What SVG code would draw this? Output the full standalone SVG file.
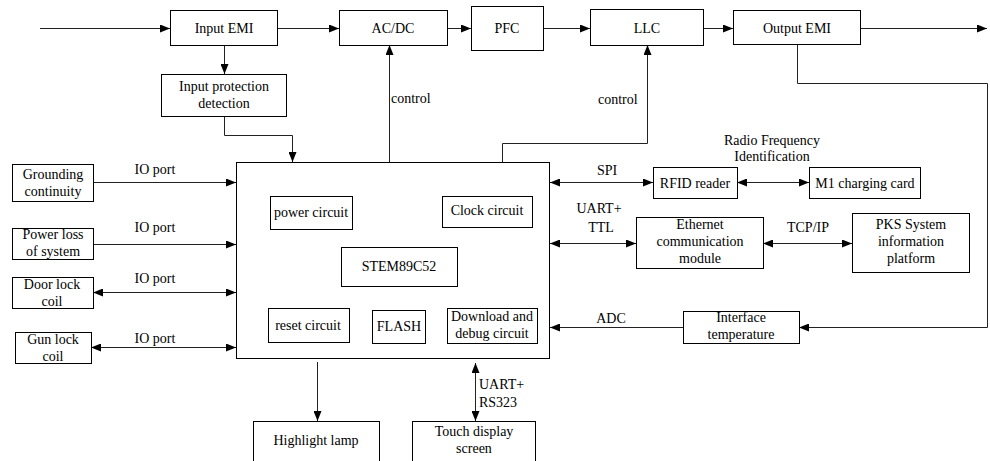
<svg xmlns="http://www.w3.org/2000/svg" width="990" height="461" viewBox="0 0 990 461">
  <defs>
    <marker id="arr" viewBox="0 0 10 8" markerWidth="10" markerHeight="8" refX="10" refY="4" orient="auto-start-reverse" markerUnits="userSpaceOnUse">
      <path d="M0,0 L10,4 L0,8 Z" fill="#000"/>
    </marker>
    <style>
      .box { fill: #fff; stroke: #000; stroke-width: 1; }
      .ln { fill: none; stroke: #222; stroke-width: 1; }
      .one { marker-end: url(#arr); }
      .two { marker-start: url(#arr); marker-end: url(#arr); }
      text { font-family: "Liberation Serif", "Times New Roman", serif; font-size: 14px; fill: #000; }
      .c { text-anchor: middle; }
    </style>
  </defs>

  <rect width="990" height="461" fill="#fff"/>

  <!-- connectors -->
  <g id="connectors">
    <!-- power path -->
    <line class="ln one" x1="40" y1="28.5" x2="170" y2="28.5"/>
    <line class="ln one" x1="277" y1="28.5" x2="339" y2="28.5"/>
    <line class="ln one" x1="447" y1="28.5" x2="471" y2="28.5"/>
    <line class="ln one" x1="543" y1="28.5" x2="590" y2="28.5"/>
    <line class="ln one" x1="703" y1="28.5" x2="733" y2="28.5"/>
    <line class="ln one" x1="860" y1="28.5" x2="987" y2="28.5"/>

    <!-- input protection -->
    <line class="ln one" x1="224.5" y1="45" x2="224.5" y2="74"/>
    <polyline class="ln one" points="224.5,116 224.5,135.5 292.5,135.5 292.5,162"/>

    <!-- control lines -->
    <line class="ln one" x1="389.5" y1="162" x2="389.5" y2="45"/>
    <polyline class="ln one" points="502.5,162 502.5,143.5 647.5,143.5 647.5,45"/>

    <!-- output sensing loop -->
    <polyline class="ln one" points="797.5,44 797.5,83.5 987.5,83.5 987.5,327.5 799,327.5"/>
    <line class="ln one" x1="683" y1="327.5" x2="550" y2="327.5"/>

    <!-- left IO ports -->
    <line class="ln one" x1="93" y1="182.5" x2="236" y2="182.5"/>
    <line class="ln one" x1="93" y1="244.5" x2="236" y2="244.5"/>
    <line class="ln two" x1="93" y1="292.5" x2="236" y2="292.5"/>
    <line class="ln two" x1="91" y1="347.5" x2="236" y2="347.5"/>

    <!-- right interfaces -->
    <line class="ln two" x1="550" y1="182.5" x2="653" y2="182.5"/>
    <line class="ln two" x1="737" y1="182.5" x2="809" y2="182.5"/>
    <line class="ln two" x1="550" y1="243.5" x2="636" y2="243.5"/>
    <line class="ln two" x1="763" y1="243.5" x2="852" y2="243.5"/>

    <!-- bottom -->
    <line class="ln one" x1="317.5" y1="362" x2="317.5" y2="421"/>
    <line class="ln two" x1="475.5" y1="363" x2="475.5" y2="421"/>

    <!-- connector labels -->
    <text x="391" y="103">control</text>
    <text x="598" y="104">control</text>
    <text class="c" x="155" y="174">IO port</text>
    <text class="c" x="155" y="232">IO port</text>
    <text class="c" x="155" y="283">IO port</text>
    <text class="c" x="155" y="343">IO port</text>
    <text class="c" x="607" y="175">SPI</text>
    <text class="c" x="599" y="213">UART+</text>
    <text class="c" x="601" y="232">TTL</text>
    <text class="c" x="808" y="232">TCP/IP</text>
    <text class="c" x="772" y="145">Radio Frequency</text>
    <text class="c" x="772" y="161">Identification</text>
    <text class="c" x="611" y="323">ADC</text>
    <text x="479" y="389">UART+</text>
    <text x="479" y="407">RS323</text>
  </g>

  <!-- power stage -->
  <g id="input-emi">
    <rect class="box" x="170.5" y="10.5" width="107" height="35"/>
    <text class="c" x="224" y="33">Input EMI</text>
  </g>
  <g id="acdc">
    <rect class="box" x="339.5" y="10.5" width="108" height="35"/>
    <text class="c" x="393" y="33">AC/DC</text>
  </g>
  <g id="pfc">
    <rect class="box" x="471.5" y="6.5" width="72" height="44"/>
    <text class="c" x="507" y="33">PFC</text>
  </g>
  <g id="llc">
    <rect class="box" x="590.5" y="9.5" width="113" height="36"/>
    <text class="c" x="647" y="33">LLC</text>
  </g>
  <g id="output-emi">
    <rect class="box" x="733.5" y="10.5" width="127" height="34"/>
    <text class="c" x="797" y="33">Output EMI</text>
  </g>
  <g id="input-protection">
    <rect class="box" x="161.5" y="74.5" width="125" height="42"/>
    <text class="c" x="224" y="91">Input protection</text>
    <text class="c" x="224" y="108">detection</text>
  </g>

  <!-- controller -->
  <g id="mcu">
    <rect class="box" x="236.5" y="162.5" width="313" height="196"/>
    <rect class="box" x="270.5" y="196.5" width="82" height="33"/>
    <text class="c" x="311" y="217">power circuit</text>
    <rect class="box" x="442.5" y="196.5" width="90" height="31"/>
    <text class="c" x="487" y="215">Clock circuit</text>
    <rect class="box" x="341.5" y="247.5" width="116" height="39"/>
    <text class="c" x="399" y="271">STEM89C52</text>
    <rect class="box" x="268.5" y="308.5" width="81" height="34"/>
    <text class="c" x="308" y="330">reset circuit</text>
    <rect class="box" x="372.5" y="310.5" width="53" height="33"/>
    <text class="c" x="399" y="331">FLASH</text>
    <rect class="box" x="447.5" y="308.5" width="90" height="35"/>
    <text class="c" x="492" y="321">Download and</text>
    <text class="c" x="492" y="338">debug circuit</text>
  </g>

  <!-- left inputs -->
  <g id="grounding">
    <rect class="box" x="12.5" y="164.5" width="81" height="37"/>
    <text class="c" x="53" y="179">Grounding</text>
    <text class="c" x="53" y="196">continuity</text>
  </g>
  <g id="power-loss">
    <rect class="box" x="12.5" y="228.5" width="81" height="31"/>
    <text class="c" x="53" y="239">Power loss</text>
    <text class="c" x="53" y="256">of system</text>
  </g>
  <g id="door-lock">
    <rect class="box" x="12.5" y="277.5" width="81" height="31"/>
    <text class="c" x="52" y="289">Door lock</text>
    <text class="c" x="52" y="306">coil</text>
  </g>
  <g id="gun-lock">
    <rect class="box" x="15.5" y="332.5" width="76" height="31"/>
    <text class="c" x="53" y="344">Gun lock</text>
    <text class="c" x="53" y="361">coil</text>
  </g>

  <!-- right peripherals -->
  <g id="rfid-reader">
    <rect class="box" x="653.5" y="167.5" width="84" height="31"/>
    <text class="c" x="695" y="188">RFID reader</text>
  </g>
  <g id="m1-card">
    <rect class="box" x="809.5" y="167.5" width="111" height="31"/>
    <text class="c" x="865" y="188">M1 charging card</text>
  </g>
  <g id="ethernet">
    <rect class="box" x="636.5" y="217.5" width="127" height="51"/>
    <text class="c" x="700" y="229">Ethernet</text>
    <text class="c" x="700" y="246">communication</text>
    <text class="c" x="700" y="263">module</text>
  </g>
  <g id="pks">
    <rect class="box" x="852.5" y="213.5" width="117" height="59"/>
    <text class="c" x="911" y="229">PKS System</text>
    <text class="c" x="911" y="246">information</text>
    <text class="c" x="911" y="263">platform</text>
  </g>
  <g id="interface-temp">
    <rect class="box" x="683.5" y="311.5" width="116" height="32"/>
    <text class="c" x="741" y="322">Interface</text>
    <text class="c" x="741" y="339">temperature</text>
  </g>

  <!-- bottom outputs -->
  <g id="highlight-lamp">
    <rect class="box" x="253.5" y="421.5" width="126" height="50"/>
    <text class="c" x="316" y="445">Highlight lamp</text>
  </g>
  <g id="touch-display">
    <rect class="box" x="412.5" y="421.5" width="123" height="50"/>
    <text class="c" x="474" y="436">Touch display</text>
    <text class="c" x="474" y="453">screen</text>
  </g>
</svg>
